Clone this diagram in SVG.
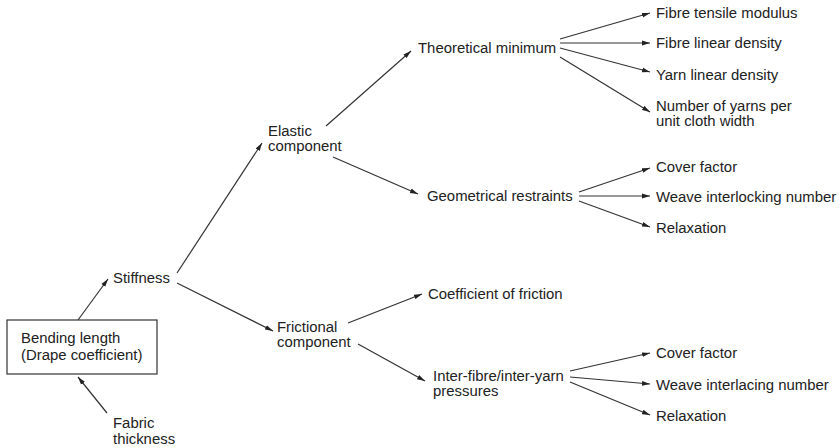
<svg xmlns="http://www.w3.org/2000/svg" width="840" height="448" viewBox="0 0 840 448">
<defs>
<style>
text{font-family:"Liberation Sans",Arial,Helvetica,sans-serif;font-size:14.9px;fill:#222}
.c line{stroke:#333;stroke-width:1.2;marker-end:url(#ah)}
.box{fill:#fff;stroke:#333;stroke-width:1.2}
</style>
<marker id="ah" viewBox="0 0 8 6" refX="8" refY="3" markerWidth="8" markerHeight="6" markerUnits="userSpaceOnUse" orient="auto">
<path d="M0,0.6 L8,3 L0,5.4 Z" fill="#222"/>
</marker>
</defs>
<rect width="840" height="448" fill="#fff"/>
<g id="bending"><rect class="box" x="7" y="320" width="150" height="54"/><text x="21" y="343">Bending length</text><text x="21" y="360">(Drape coefficient)</text></g>
<g id="stiffness"><text x="113" y="283">Stiffness</text></g>
<g id="fabric"><text x="113" y="428">Fabric</text><text x="113" y="444">thickness</text></g>
<g id="elastic"><text x="268" y="136">Elastic</text><text x="268" y="151">component</text></g>
<g id="frictional"><text x="277" y="332">Frictional</text><text x="277" y="347">component</text></g>
<g id="theoretical"><text x="418" y="53">Theoretical minimum</text></g>
<g id="geometrical"><text x="427" y="201">Geometrical restraints</text></g>
<g id="coefficient"><text x="428" y="299">Coefficient of friction</text></g>
<g id="interfibre"><text x="433" y="381">Inter-fibre/inter-yarn</text><text x="433" y="396">pressures</text></g>
<g id="fibretensile"><text x="656" y="18">Fibre tensile modulus</text></g>
<g id="fibrelinear"><text x="656" y="48">Fibre linear density</text></g>
<g id="yarnlinear"><text x="656" y="80">Yarn linear density</text></g>
<g id="numyarns"><text x="656" y="111">Number of yarns per</text><text x="656" y="126">unit cloth width</text></g>
<g id="cover1"><text x="656" y="172">Cover factor</text></g>
<g id="weave1"><text x="656" y="202">Weave interlocking number</text></g>
<g id="relax1"><text x="656" y="233">Relaxation</text></g>
<g id="cover2"><text x="656" y="358">Cover factor</text></g>
<g id="weave2"><text x="656" y="390">Weave interlacing number</text></g>
<g id="relax2"><text x="656" y="421">Relaxation</text></g>
<g class="c" id="connectors">
<line x1="78" y1="320" x2="108" y2="279"/>
<line x1="107" y1="413" x2="78" y2="377"/>
<line x1="177" y1="273" x2="262" y2="143"/>
<line x1="177" y1="283" x2="273" y2="331"/>
<line x1="326" y1="126" x2="411" y2="51"/>
<line x1="333" y1="157" x2="418" y2="194"/>
<line x1="348" y1="323" x2="422" y2="294"/>
<line x1="358" y1="344" x2="425" y2="381"/>
<line x1="560" y1="39" x2="650" y2="13"/>
<line x1="560" y1="43" x2="650" y2="43"/>
<line x1="560" y1="48" x2="650" y2="72"/>
<line x1="560" y1="57" x2="650" y2="112"/>
<line x1="579" y1="192" x2="650" y2="168"/>
<line x1="579" y1="196" x2="650" y2="196"/>
<line x1="579" y1="201" x2="650" y2="227"/>
<line x1="570" y1="371" x2="650" y2="353"/>
<line x1="570" y1="377" x2="650" y2="384"/>
<line x1="570" y1="382" x2="650" y2="415"/>
</g>
</svg>
